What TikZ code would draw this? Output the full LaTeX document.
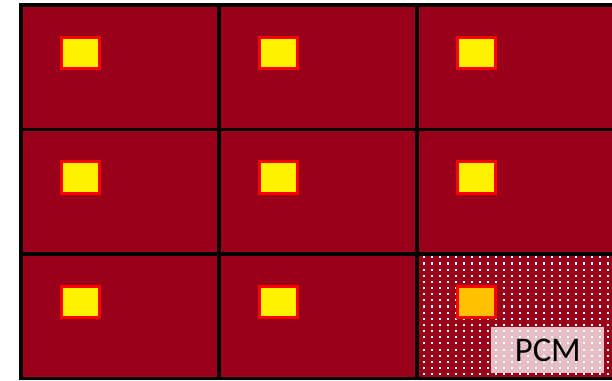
\documentclass[tikz,border=0pt]{standalone}
\usepackage{fontspec}
\usepackage{tikz}
\usetikzlibrary{positioning,calc}
\newfontfamily\pcmfont{Carlito}
\definecolor{cellred}{HTML}{990019}
\definecolor{chipred}{HTML}{FF0000}
\definecolor{chiporange}{HTML}{FFC000}

\begin{document}
\begin{tikzpicture}[
  x=0.02cm, y=-0.02cm,
  cell/.style={draw=black, line width=2.1pt, fill=cellred, minimum width=3.96cm, minimum height=2.49cm, inner sep=0pt, outer sep=0pt, anchor=north west},
  chip/.style={draw=chipred, line width=1.5pt, fill=yellow, minimum width=0.77cm, minimum height=0.63cm, inner sep=0pt},
  pcmbox/.style={fill=white, fill opacity=0.75, minimum width=2.26cm, minimum height=0.92cm, inner sep=0pt, anchor=north west},
  dot/.style={fill=white, minimum size=1.2pt, inner sep=0pt}
]
\useasboundingbox (0,0) rectangle (612,380);
\clip (0,0) rectangle (612,380);

% 3x3 grid of cells, each with its chip
\foreach \r/\y in {1/5,2/129.5,3/254} {
  \foreach \c/\x in {1/21,2/219,3/417} {
    \node[cell] (cell\r\c) at (\x,\y) {};
  }
}

% PCM cell: translucent label box, then the dot pattern
\node[pcmbox] (pcm) at (491,327) {};
\begin{scope}
  \clip (cell33.north west) rectangle (cell33.south east);
  \foreach \i in {0,...,24} {
    \foreach \j in {0,...,20} {
      \node[dot] at ({424.3+8*\i},{257.3+6.15*\j}) {};
    }
  }
\end{scope}
\draw[black, line width=2.1pt] (cell33.north west) rectangle (cell33.south east);

\foreach \r in {1,2,3} {
  \foreach \c in {1,2,3} {
    \node[chip] (chip\r\c) at ($(cell\r\c.north west)+(59.5,48)$) {};
  }
}
\node[chip, fill=chiporange] at (chip33) {};

\node[font=\pcmfont\fontsize{19.7}{22}\selectfont, text=black] (pcmlabel) at (pcm.center) {PCM};
\end{tikzpicture}
\end{document}
